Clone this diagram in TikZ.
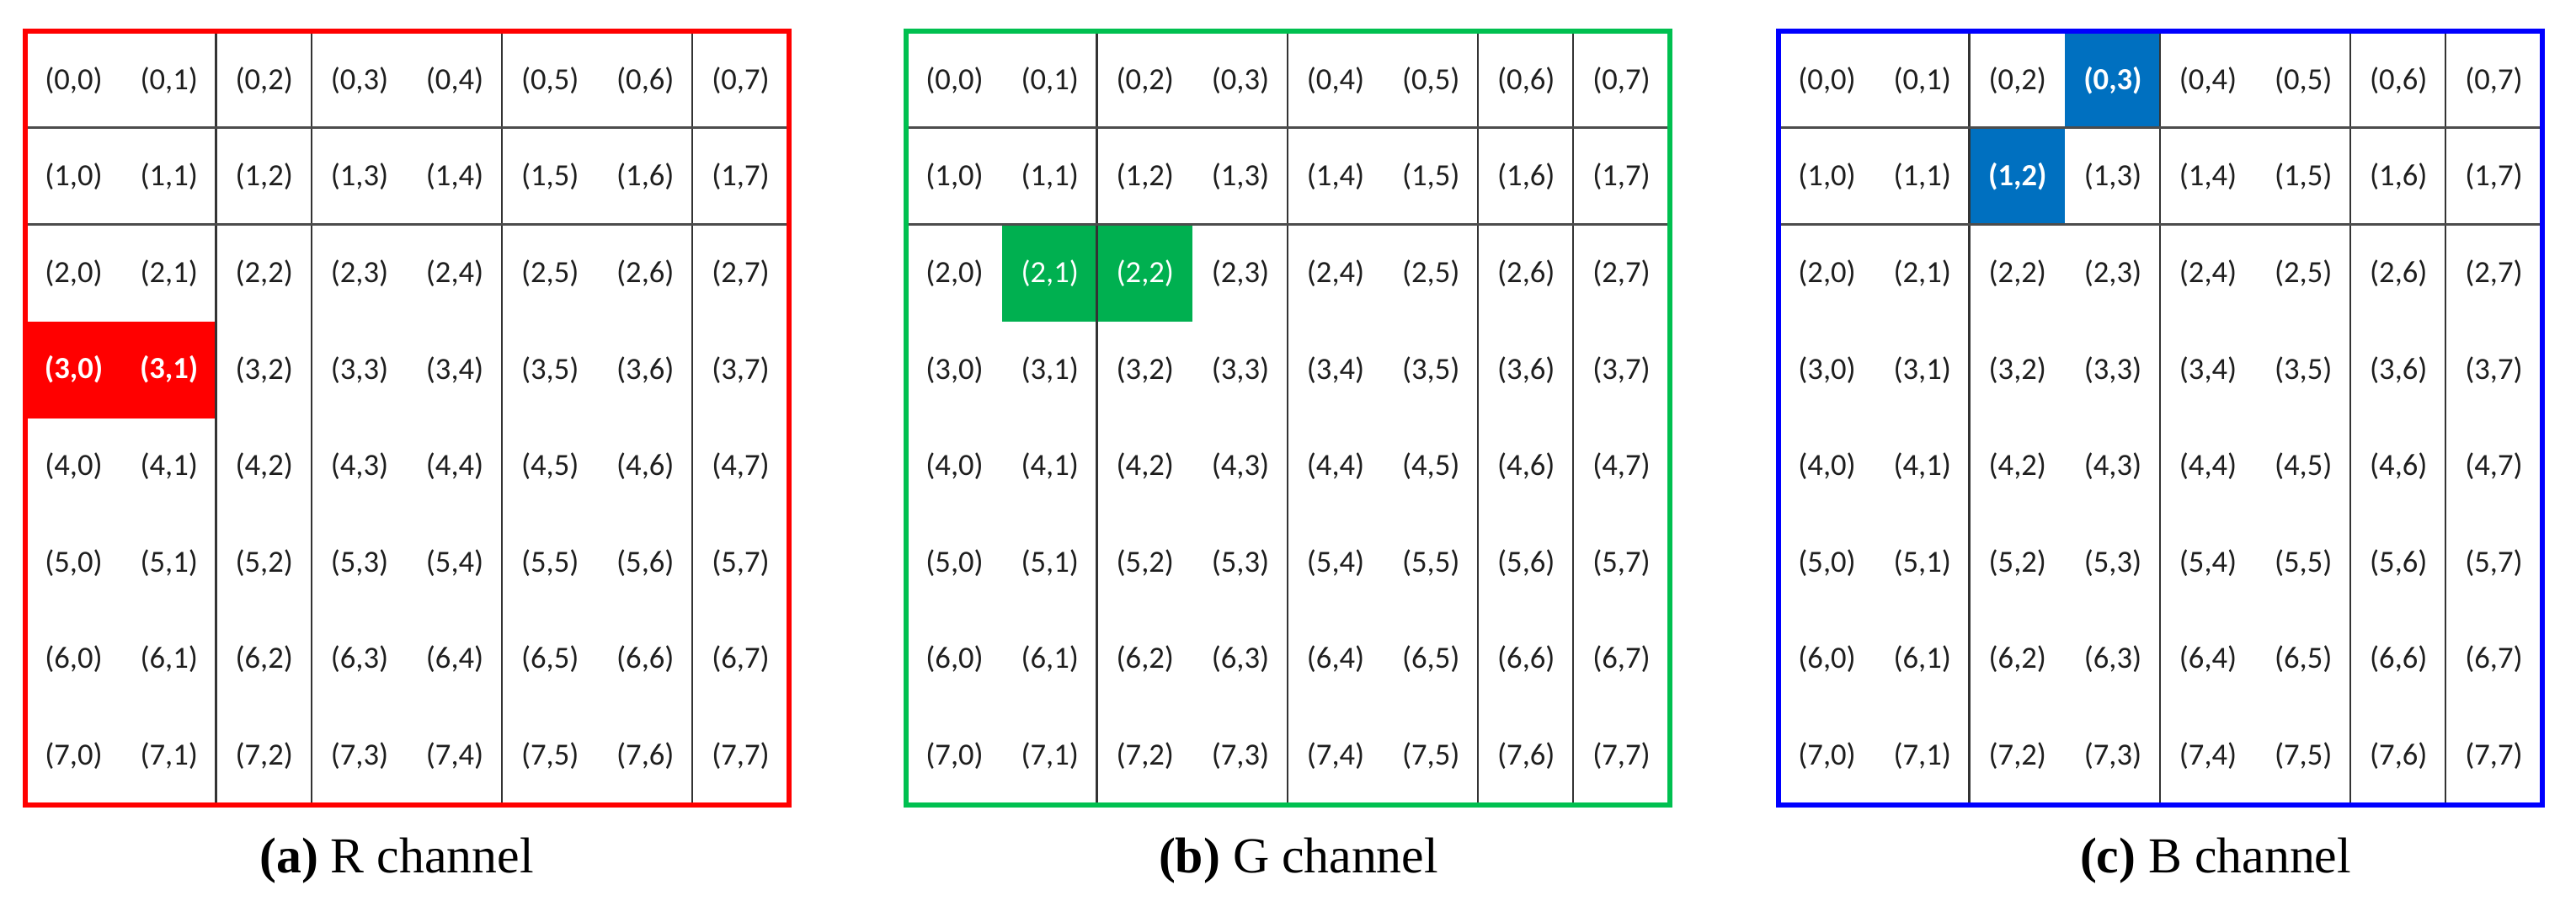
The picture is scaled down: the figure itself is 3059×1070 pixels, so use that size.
\documentclass[tikz,border=0pt]{standalone}
\usepackage{fontspec}
\setmainfont{Liberation Serif}
\newfontfamily\cellfont{Carlito}
\definecolor{rborder}{RGB}{255,0,0}
\definecolor{rfill}{RGB}{255,0,0}
\definecolor{gborder}{RGB}{0,192,80}
\definecolor{gfill}{RGB}{0,176,80}
\definecolor{bborder}{RGB}{0,0,255}
\definecolor{bfill}{RGB}{0,112,192}
\definecolor{celltxt}{RGB}{30,30,30}
\begin{document}
\begin{tikzpicture}[x=0.01cm,y=-0.01cm,
  cell/.style={minimum width=1.13125cm,minimum height=1.14625cm,inner sep=0pt,
    anchor=center,font=\cellfont\fontsize{10.4}{12}\selectfont,text=celltxt},
  gridv/.style={draw=black!80,line width=0.6pt},
  gridh/.style={draw=black!70,line width=0.85pt},
  frame/.style={line width=1.7pt},
  caption/.style={anchor=base,inner sep=0pt,font=\fontsize{17}{19}\selectfont},
  hl-a-3-0/.style={fill=rfill,text=white,font=\cellfont\bfseries\fontsize{10.4}{12}\selectfont},
  hl-a-3-1/.style={fill=rfill,text=white,font=\cellfont\bfseries\fontsize{10.4}{12}\selectfont},
  hl-b-2-1/.style={fill=gfill,text=white},
  hl-b-2-2/.style={fill=gfill,text=white},
  hl-c-0-3/.style={fill=bfill,text=white,font=\cellfont\bfseries\fontsize{10.4}{12}\selectfont},
  hl-c-1-2/.style={fill=bfill,text=white,font=\cellfont\bfseries\fontsize{10.4}{12}\selectfont}]
\useasboundingbox (0,0) rectangle (3059,1070);
\fill[white] (0,0) rectangle (3059,1070);

% cells
\foreach \p/\X in {a/31,b/1077,c/2113}{
  \foreach \r in {0,...,7}{
    \foreach \c in {0,...,7}{
      \node[cell,hl-\p-\r-\c/.try] (\p-\r-\c) at ({\X+(\c+0.5)*113.125},{38+(\r+0.5)*114.625}) {(\r,\c)};
    }
  }
}

% grid lines
\foreach \p/\cols in {a/{2,3,5,7},b/{2,4,6,7},c/{2,4,6,7}}{
  \foreach \k in \cols{
    \draw[gridv] (\p-0-\k.north west) -- (\p-7-\k.south west);
  }
  \foreach \rr in {1,2}{
    \draw[gridh] (\p-\rr-0.north west) -- (\p-\rr-7.north east);
  }
}

% frames
\draw[frame,draw=rborder] (a-0-0.north west) rectangle (a-7-7.south east);
\draw[frame,draw=gborder] (b-0-0.north west) rectangle (b-7-7.south east);
\draw[frame,draw=bborder] (c-0-0.north west) rectangle (c-7-7.south east);

% captions
\node[caption] (capa) at (471,1036) {\textbf{(a)} R channel};
\node[caption] (capb) at (1542,1036) {\textbf{(b)} G channel};
\node[caption] (capc) at (2631,1036) {\textbf{(c)} B channel};
\end{tikzpicture}
\end{document}
